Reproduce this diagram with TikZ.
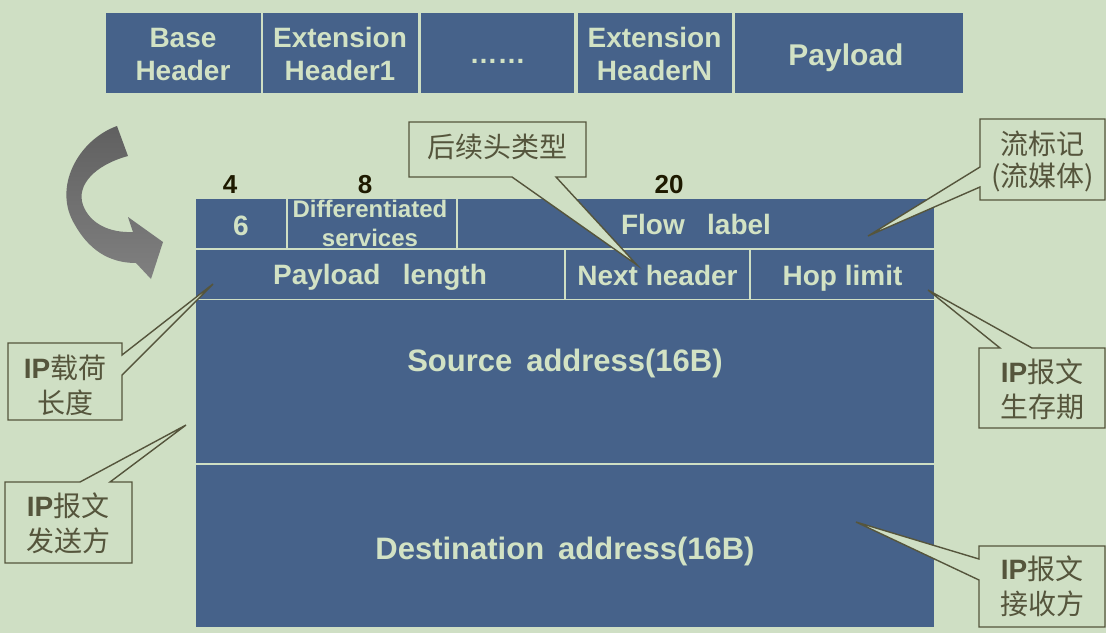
\documentclass[tikz,border=0pt]{standalone}
\usepackage{fontspec}
\setmainfont{Liberation Sans}
\newfontfamily\cjk{Noto Sans CJK SC}
\definecolor{bg}{RGB}{207,223,196}
\definecolor{cellblue}{RGB}{70,98,138}
\definecolor{celltext}{RGB}{210,226,196}
\definecolor{olive}{RGB}{85,85,60}
\definecolor{numcol}{RGB}{30,26,0}
\begin{document}
\begin{tikzpicture}[x=1pt,y=-1pt,
  cell/.style={fill=cellblue,draw=none,inner sep=0pt},
  ctxt/.style={text=celltext,font=\bfseries\fontsize{28}{33}\selectfont,align=center,inner sep=0pt,anchor=base},
  num/.style={text=numcol,font=\bfseries\fontsize{26}{28}\selectfont,inner sep=0pt,anchor=base},
  callout/.style={fill=bg,draw=olive,line width=1.4pt,line join=miter},
  ctext/.style={text=olive,font=\fontsize{28}{35}\selectfont,align=center,inner sep=0pt}]
\useasboundingbox (0,0) rectangle (1106,633);
\fill[bg] (0,0) rectangle (1106,633);
% top row
\node[cell,minimum width=155pt,minimum height=80pt] (base) at (183,53) {};
\node[cell,minimum width=155pt,minimum height=80pt] (ext1) at (340,53) {};
\node[cell,minimum width=153pt,minimum height=80pt] (dots) at (497.5,53) {};
\node[cell,minimum width=154pt,minimum height=80pt] (extn) at (654.5,53) {};
\node[cell,minimum width=228pt,minimum height=80pt] (pay) at (849,53) {};
\node[ctxt] (baset) at (183,80) {Base\\Header};
\node[ctxt] (ext1t) at (340,80) {Extension\\Header1};
\node[ctxt] (dotst) at (497.5,63) {……};
\node[ctxt] (extnt) at (654.5,80) {Extension\\HeaderN};
\node[ctxt,font=\bfseries\fontsize{30}{33}\selectfont] (payt) at (846,65) {Payload};
% curved arrow
\shade[top color={rgb,255:red,96;green,96;blue,96},bottom color={rgb,255:red,128;green,128;blue,128}]
  (117,126) .. controls (78,140) and (52,188) .. (75,225) .. controls (92,255) and (115,263) .. (136,263)
  -- (151,279) -- (163,242) -- (128,217) -- (133,232)
  .. controls (110,233) and (90,224) .. (83,205) .. controls (76,185) and (95,165) .. (128,156) -- cycle;
% bit widths
\node[num] (n4) at (230,193) {4};
\node[num] (n8) at (365,193) {8};
\node[num] (n20) at (669,193) {20};
% header row 1
\node[cell,minimum width=90pt,minimum height=49pt] (ver) at (241,223.5) {};
\node[cell,minimum width=168pt,minimum height=49pt] (ds) at (372,223.5) {};
\node[cell,minimum width=476pt,minimum height=49pt] (flow) at (696,223.5) {};
\node[ctxt] (vert) at (241,235) {6};
\node[ctxt,font=\bfseries\fontsize{24}{29}\selectfont] (dst1) at (370,246) {Differentiated\\services};
\node[ctxt] (flowt) at (696,234) {Flow\hspace{0.8em}label};
% row 2
\node[cell,minimum width=368pt,minimum height=49pt] (plen) at (380,274) {};
\node[cell,minimum width=183pt,minimum height=49pt] (nh) at (657.5,274) {};
\node[cell,minimum width=183pt,minimum height=49pt] (hop) at (842.5,274) {};
\node[ctxt] (plent) at (380,284) {Payload\hspace{0.8em}length};
\node[ctxt] (nht) at (657.5,285) {Next header};
\node[ctxt] (hopt) at (842.5,285) {Hop limit};
% rows 3, 4
\node[cell,minimum width=738pt,minimum height=163pt] (src) at (565,381.5) {};
\node[cell,minimum width=738pt,minimum height=162pt] (dst) at (565,546) {};
\node[ctxt,font=\bfseries\fontsize{31}{33}\selectfont] (srct) at (565,371) {Source\hspace{0.45em}address(16B)};
\node[ctxt,font=\bfseries\fontsize{31}{33}\selectfont] (dstt) at (565,559) {Destination\hspace{0.45em}address(16B)};
% callout tips
\coordinate (t1) at (637,265);
\coordinate (t2) at (868,236);
\coordinate (t3) at (213,284);
\coordinate (t4) at (186,425);
\coordinate (t5) at (928,290);
\coordinate (t6) at (856,522);
% callouts
\draw[callout] (409,122) -- (586,122) -- (586,177) -- (556,177) -- (t1) -- (512,177) -- (409,177) -- cycle;
\node[ctext] (c1) at (497.5,147) {\cjk 后续头类型};
\draw[callout] (980,119) -- (1105,119) -- (1105,200) -- (980,200) -- (980,187) -- (t2) -- (980,167) -- cycle;
\node[ctext,font=\fontsize{28}{32}\selectfont] (c2) at (1042.5,161) {\cjk 流标记\\\cjk (流媒体)};
\draw[callout] (8,343) -- (122,343) -- (122,355) -- (t3) -- (122,375) -- (122,420) -- (8,420) -- cycle;
\node[ctext] (c3) at (65,385.5) {\textbf{IP}{\cjk 载荷}\\\cjk 长度};
\draw[callout] (5,482) -- (80,482) -- (t4) -- (110,482) -- (132,482) -- (132,563) -- (5,563) -- cycle;
\node[ctext] (c4) at (68,523.5) {\textbf{IP}{\cjk 报文}\\\cjk 发送方};
\draw[callout] (979,348) -- (1000,348) -- (t5) -- (1032,348) -- (1105,348) -- (1105,428) -- (979,428) -- cycle;
\node[ctext] (c5) at (1042,389.5) {\textbf{IP}{\cjk 报文}\\\cjk 生存期};
\draw[callout] (979,546) -- (1105,546) -- (1105,627) -- (979,627) -- (979,580) -- (t6) -- (979,559) -- cycle;
\node[ctext] (c6) at (1042,586.5) {\textbf{IP}{\cjk 报文}\\\cjk 接收方};
\end{tikzpicture}
\end{document}
